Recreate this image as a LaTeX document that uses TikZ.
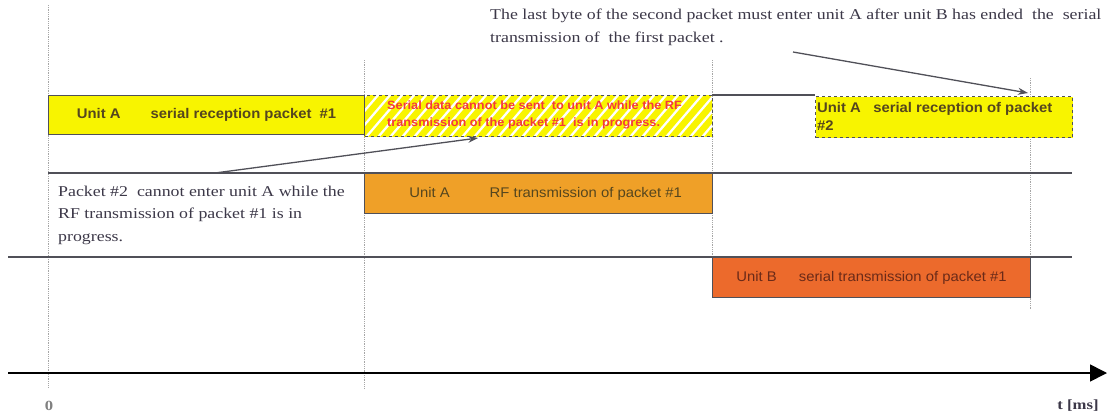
\documentclass[tikz,border=0pt]{standalone}
\usepackage{fontspec}
\setmainfont[FakeStretch=1.19]{Liberation Serif}
\setsansfont[FakeStretch=1.06]{Liberation Sans}
\usetikzlibrary{arrows.meta}
\definecolor{yel}{HTML}{F8F400}
\definecolor{rfor}{HTML}{EFA028}
\definecolor{ubor}{HTML}{EC6A2C}
\definecolor{boxtxt}{HTML}{55461E}
\definecolor{ubtxt}{HTML}{6A2A18}
\definecolor{redtxt}{HTML}{F43A3A}
\definecolor{linegray}{HTML}{505058}
\definecolor{notetxt}{HTML}{3C3848}
\tikzset{
  unitbox/.style={draw=linegray, line width=1.2pt, anchor=north west, inner sep=0pt, font=\sffamily\fontsize{14}{16}\selectfont, text=boxtxt},
  rowline/.style={draw=linegray, line width=1.6pt},
  guide/.style={draw=gray!70, line width=0.8pt, densely dotted},
  note/.style={font=\fontsize{15}{22.5}\selectfont, text=notetxt, anchor=base west, align=left, inner sep=0pt},
  pointer/.style={draw=linegray, line width=1.3pt, -{Stealth[length=10pt,width=7pt]}},
}
\begin{document}
\begin{tikzpicture}[x=1pt,y=-1pt]
\useasboundingbox (0,0) rectangle (1107,412);
% guides
\draw[guide] (48,5) -- (48,388);
\draw[guide] (364,60) -- (364,388);
\draw[guide] (712,60) -- (712,262);
\draw[guide] (1030,78) -- (1030,310);
% row lines
\draw[rowline] (712,95) -- (815,95);
\draw[rowline] (48,173) -- (1072,173);
\draw[rowline] (8,257) -- (1072,257);
% hatched box
\begin{scope}
\clip (364,95) rectangle (712,136);
\fill[white] (364,95) rectangle (712,136);
\foreach \i in {0,...,36}{
  \draw[yel, line width=6.5pt] ({325+\i*12},150) -- ({325+\i*12+60},80);
}
\end{scope}
\node[draw=linegray, line width=1.2pt, dashed, anchor=north west, minimum width=348pt, minimum height=41pt, inner sep=0pt] (hatch) at (364,95) {};
\node[anchor=north west, inner sep=0pt, align=left, text=redtxt, font=\sffamily\bfseries\fontsize{12}{17}\selectfont] (hatchtxt) at (387,101) {Serial data cannot be sent\ \ to unit A while the RF\\transmission of the packet \#1\ \ is in progress.};
% boxes
\node[unitbox, fill=yel, minimum width=316pt, minimum height=39pt, font=\sffamily\bfseries\fontsize{14}{16}\selectfont] (ra) at (48,95) {Unit A\hspace{30pt}serial reception packet\ \ \#1};
\node[unitbox, fill=rfor, minimum width=348pt, minimum height=40pt] (rf) at (364,173) {\hspace{14pt}Unit A\hspace{40pt}RF transmission of packet \#1};
\node[unitbox, fill=ubor, text=ubtxt, minimum width=318pt, minimum height=40pt] (ub) at (712,257) {Unit B\hspace{22pt}serial transmission of packet \#1};
\node[unitbox, fill=yel, dashed, minimum width=257pt, minimum height=41pt] (rb) at (815,96) {};
\node[anchor=north west, inner sep=0pt, align=left, text=boxtxt, font=\sffamily\bfseries\fontsize{14}{18}\selectfont] (rbtxt) at (817,102) {Unit A\ \ \ serial reception of packet\\\#2};
% notes
\node[note] (top) at (490,42) {The last byte of the second packet must enter unit A after unit B has ended\ \ the\ \ serial\\transmission of\ \ the first packet .};
\node[note] (left) at (58,241) {Packet \#2\ \ cannot enter unit A while the\\RF transmission of packet \#1 is in\\progress.};
% pointers
\coordinate (p1s) at (215,173);
\coordinate (p1e) at (478,138);
\draw[pointer] (p1s) -- (p1e);
\coordinate (p2s) at (793,52);
\coordinate (p2e) at (1028,93);
\draw[pointer] (p2s) -- (p2e);
% axis
\coordinate (ax0) at (8,373);
\coordinate (ax1) at (1107,373);
\draw[line width=1.6pt, -{Triangle[length=17pt,width=17pt]}] (ax0) -- (ax1);
\node[font=\bfseries\fontsize{14}{16}\selectfont, text=gray] (zero) at (49,406) {0};
\node[font=\bfseries\fontsize{14}{16}\selectfont, text=notetxt] (tms) at (1078,406) {t [ms]};
\end{tikzpicture}
\end{document}
